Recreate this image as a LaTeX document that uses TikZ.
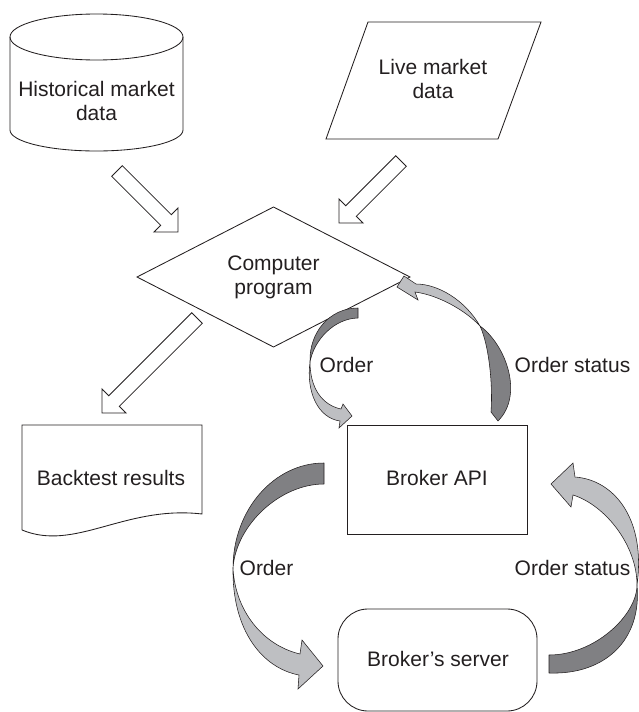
\documentclass[tikz,border=0pt]{standalone}
\usepackage{fontspec}
\setmainfont{Liberation Sans}
\usetikzlibrary{calc}
\definecolor{ink}{RGB}{35,31,32}
\definecolor{darkband}{RGB}{128,128,131}
\definecolor{lightband}{RGB}{190,191,194}
\tikzset{
  outline/.style={draw=ink, line width=0.85pt, line join=miter},
  hollow/.style={draw=ink, line width=0.85pt, fill=white, line join=miter},
  bandd/.style={draw=ink, line width=0.55pt, fill=darkband, line join=round},
  bandl/.style={draw=ink, line width=0.55pt, fill=lightband, line join=miter},
  txt/.style={text=ink, inner sep=0pt, align=center, font=\fontsize{21}{24}\selectfont},
  boxshape/.style={outline, inner sep=0pt}
}
\newcommand\hollowarrow[2]{%
  \draw[hollow] ($(#1)!7.5pt!90:(#2)$)
    -- ($(#2)!17pt!(#1)!7.5pt!-90:(#1)$)
    -- ($(#2)!17pt!(#1)!17pt!-90:(#1)$)
    -- (#2)
    -- ($(#2)!17pt!(#1)!17pt!90:(#1)$)
    -- ($(#2)!17pt!(#1)!7.5pt!90:(#1)$)
    -- ($(#1)!7.5pt!-90:(#2)$) -- cycle;}
\begin{document}
\begin{tikzpicture}[x=1pt,y=-1pt]
\useasboundingbox (0,0) rectangle (638,712);

% Historical market data (cylinder)
\draw[outline] (10,37) -- (10,130) arc[start angle=180, end angle=360, x radius=86.5pt, y radius=21pt] -- (183,37);
\draw[outline] (96.5,37) ellipse [x radius=86.5pt, y radius=23pt];
\node[txt] (hist) at (96.5,101.2) {Historical market\\data};

% Live market data (parallelogram)
\draw[outline] (368,22) -- (541,22) -- (498,139) -- (326,139) -- cycle;
\node[txt] (live) at (433,79.4) {Live market\\data};

% Computer program (diamond)
\draw[outline] (273.5,207) -- (410,277) -- (273.5,347) -- (137,277) -- cycle;
\node[txt] (cpu) at (273.5,277.2) {Computer\\program};

% Backtest results (document)
\draw[outline] (22,530) -- (22,425) -- (202,425) -- (202,514)
  .. controls (125,505) and (75,552) .. (22,530);
\node[txt, anchor=base] (back) at (111,485.5) {Backtest results};

% Broker API
\node[boxshape, minimum width=180pt, minimum height=109pt] (api) at (437,479.5) {};
\node[txt, anchor=base] (apitext) at (437,485) {Broker API};

% Broker's server
\node[boxshape, rounded corners=30pt, minimum width=199pt, minimum height=102pt] (srv) at (437.5,660) {};
\node[txt, anchor=base] (srvtext) at (438,666) {Broker’s server};

% hollow arrows
\coordinate (h1) at (117,171); \coordinate (h1e) at (178,232);
\coordinate (h2) at (401,161); \coordinate (h2e) at (339,223);
\coordinate (h3) at (197,318); \coordinate (h3e) at (102,413);
\hollowarrow{h1}{h1e}
\hollowarrow{h2}{h2e}
\hollowarrow{h3}{h3e}

% curved arrow A: Order (program -> API)
\filldraw[bandd] (358,308) .. controls (330,308) and (309,332) .. (310,362)
  .. controls (314,340) and (334,318.5) .. (358,318) -- cycle;
\filldraw[bandl] (310,362) .. controls (310,388) and (322,405) .. (341,409)
  -- (343,404) -- (352,416) -- (339,428) -- (340,421)
  .. controls (318,418) and (306,392) .. (310,362) -- cycle;

% curved arrow B: Order status (API -> program)
\filldraw[bandd] (480,326) .. controls (506,345) and (524,395) .. (498,421)
  -- (491,412) .. controls (493,385) and (489,345) .. (480,326) -- cycle;
\filldraw[bandl] (480,326) .. controls (465,300) and (438,284) .. (416,284)
  -- (404,276) -- (397,287) -- (418,300) -- (415,292)
  .. controls (438,295) and (465,310) .. (480,326) -- cycle;

% curved arrow C: Order (API -> server)
\filldraw[bandd] (324,463) .. controls (274,463) and (233,510) .. (233,568)
  .. controls (236,525) and (280,484) .. (324,484) -- cycle;
\filldraw[bandl] (233,568) .. controls (235,610) and (262,645) .. (300,654)
  -- (302,640) -- (323,666) -- (298,689) -- (299,675)
  .. controls (262,668) and (232,630) .. (233,568) -- cycle;

% curved arrow D: Order status (server -> API)
\filldraw[bandd] (549,673) .. controls (605,675) and (642,640) .. (637,585)
  .. controls (637,615) and (595,655) .. (549,655) -- cycle;
\filldraw[bandl] (637,585) .. controls (637,545) and (605,505) .. (573,495)
  -- (571,507) -- (551,484) -- (573,463) -- (575,477)
  .. controls (615,480) and (646,520) .. (637,585) -- cycle;

% labels
\node[txt, anchor=base] (la) at (346.5,372) {Order};
\node[txt, anchor=base] (lb) at (572.5,372) {Order status};
\node[txt, anchor=base] (lc) at (266.5,575) {Order};
\node[txt, anchor=base] (ld) at (572.5,575) {Order status};
\end{tikzpicture}
\end{document}
